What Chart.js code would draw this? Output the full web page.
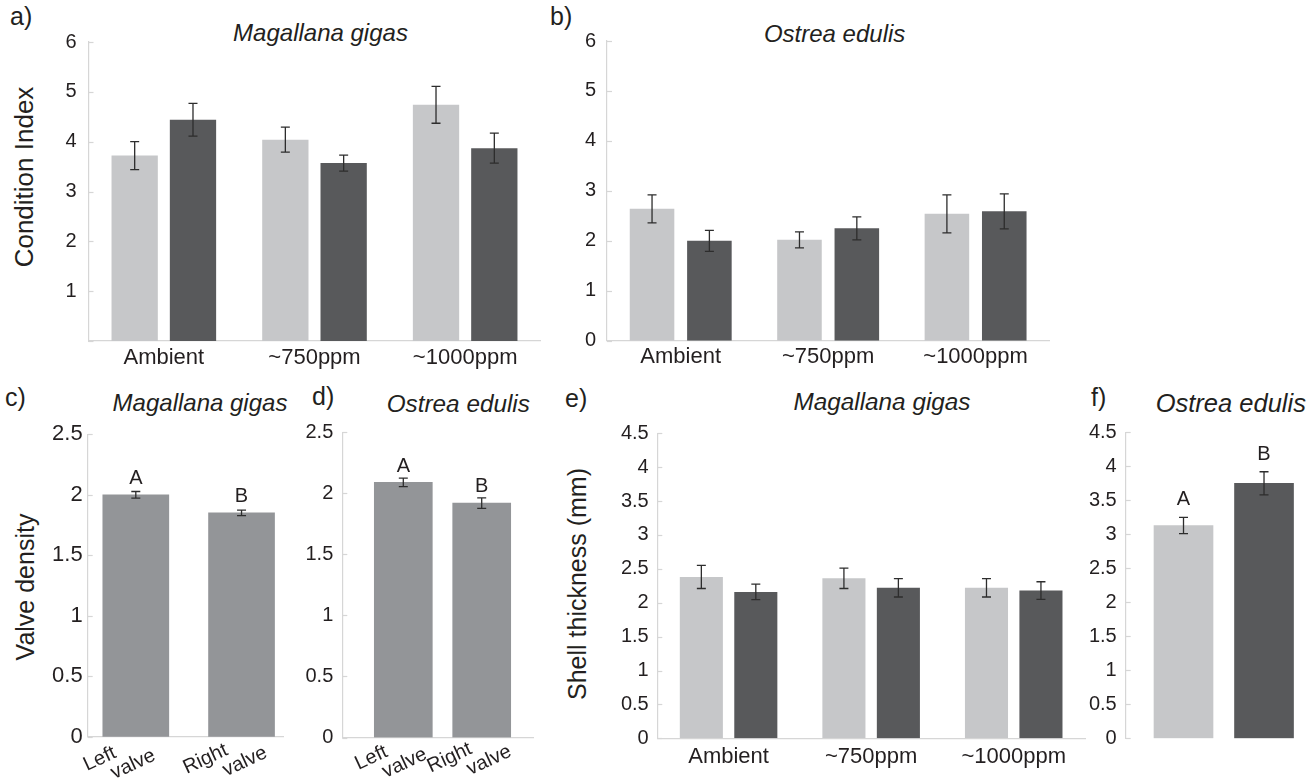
<!DOCTYPE html>
<html><head><meta charset="utf-8">
<script src="https://cdn.jsdelivr.net/npm/chart.js@4.4.1/dist/chart.umd.min.js"></script>
<style>
html,body{margin:0;padding:0;background:#fff;}
body{width:1309px;height:782px;position:relative;overflow:hidden;font-family:Helvetica,"Liberation Sans",Arial,sans-serif;color:#231f20;}
canvas{position:absolute;}
.t{position:absolute;line-height:1;white-space:nowrap;}
.title{font-style:italic;transform:translateX(-50%);}
.ytitle{transform:translate(-50%,-50%) rotate(-90deg);}
</style></head><body>

<div class="t" style="left:10px;top:4px;font-size:25px;">a)</div>
<div class="t" style="left:550px;top:4px;font-size:25px;">b)</div>
<div class="t" style="left:5px;top:385px;font-size:25px;">c)</div>
<div class="t" style="left:312px;top:384px;font-size:25px;">d)</div>
<div class="t" style="left:565px;top:386px;font-size:25px;">e)</div>
<div class="t" style="left:1091px;top:385px;font-size:25px;">f)</div>

<div class="t title" style="left:320.5px;top:20.7px;font-size:24px;">Magallana gigas</div>
<div class="t title" style="left:834.6px;top:21.5px;font-size:24px;">Ostrea edulis</div>
<div class="t title" style="left:200px;top:391px;font-size:24px;">Magallana gigas</div>
<div class="t title" style="left:458.3px;top:392px;font-size:24.3px;">Ostrea edulis</div>
<div class="t title" style="left:882px;top:390.4px;font-size:24.3px;">Magallana gigas</div>
<div class="t title" style="left:1230.8px;top:391.4px;font-size:25.5px;">Ostrea edulis</div>

<div class="t ytitle" style="left:23.5px;top:177px;font-size:26px;">Condition Index</div>
<div class="t ytitle" style="left:25px;top:587px;font-size:25px;">Valve density</div>
<div class="t ytitle" style="left:576.5px;top:584px;font-size:25px;">Shell thickness (mm)</div>

<canvas id="ca" width="545" height="380" style="left:0px;top:0px;width:545px;height:380px;"></canvas>
<canvas id="cb" width="520" height="380" style="left:545px;top:0px;width:520px;height:380px;"></canvas>
<canvas id="cc" width="290" height="402" style="left:0px;top:380px;width:290px;height:402px;"></canvas>
<canvas id="cd" width="250" height="402" style="left:290px;top:380px;width:250px;height:402px;"></canvas>
<canvas id="ce" width="545" height="402" style="left:545px;top:380px;width:545px;height:402px;"></canvas>
<canvas id="cf" width="234" height="402" style="left:1075px;top:380px;width:234px;height:402px;"></canvas>

<script>
// ---------------- DATA ----------------
const co2Levels = ['Ambient', '~750ppm', '~1000ppm'];
const groupNames = ['Group 1', 'Group 2'];

// a) Condition index, Magallana gigas
const ciGigasLight = [3.72, 4.04, 4.74];
const ciGigasLightSE = [0.28, 0.25, 0.37];
const ciGigasDark = [4.44, 3.57, 3.87];
const ciGigasDarkSE = [0.33, 0.16, 0.30];

// b) Condition index, Ostrea edulis
const ciEdulisLight = [2.64, 2.02, 2.54];
const ciEdulisLightSE = [0.28, 0.16, 0.38];
const ciEdulisDark = [2.00, 2.25, 2.59];
const ciEdulisDarkSE = [0.21, 0.23, 0.35];

// c), d) Valve density
const valveLabels = [['Left', 'valve'], ['Right', 'valve']];
const densGigas = [2.00, 1.85];
const densGigasSE = [0.027, 0.023];
const densEdulis = [2.09, 1.92];
const densEdulisSE = [0.035, 0.043];
const valveLetters = ['A', 'B'];

// e) Shell thickness, Magallana gigas
const thickGigasLight = [2.38, 2.36, 2.22];
const thickGigasLightSE = [0.17, 0.15, 0.135];
const thickGigasDark = [2.16, 2.22, 2.18];
const thickGigasDarkSE = [0.115, 0.135, 0.13];

// f) Shell thickness, Ostrea edulis
const thickEdulis = [3.13, 3.75];
const thickEdulisSE = [0.12, 0.17];
const thickEdulisLetters = ['A', 'B'];

// tick values / labels
const ciTickValues = [0, 1, 2, 3, 4, 5, 6];
const ciTickLabelsA = ['', '1', '2', '3', '4', '5', '6'];
const ciTickLabelsB = ['0', '1', '2', '3', '4', '5', '6'];
const densTickValues = [0, 0.5, 1, 1.5, 2, 2.5];
const densTickLabels = ['0', '0.5', '1', '1.5', '2', '2.5'];
const thickTickValues = [0, 0.5, 1, 1.5, 2, 2.5, 3, 3.5, 4, 4.5];
const thickTickLabels = ['0', '0.5', '1', '1.5', '2', '2.5', '3', '3.5', '4', '4.5'];

// ---------------- STYLE ----------------
const FAMILY = 'Helvetica, "Liberation Sans", Arial, sans-serif';
const TEXT = '#231f20';
const AXIS = '#d6d6d6';
const LIGHT = '#c6c7c9';
const DARK = '#58595b';
const MID = '#939598';
Chart.defaults.font.family = FAMILY;
Chart.defaults.color = TEXT;

function rawVal(d) { return typeof d === 'number' ? d : d.y; }

function makePlugins(opt) {
  return [{
    id: 'innerTicks',
    beforeDatasetsDraw(chart) {
      const ys = chart.scales.y, ctx = chart.ctx, x0 = chart.chartArea.left;
      ctx.save();
      ctx.strokeStyle = AXIS; ctx.lineWidth = 1.2;
      ys.ticks.forEach(t => {
        const y = Math.round(ys.getPixelForValue(t.value)) + 0.5;
        ctx.beginPath(); ctx.moveTo(x0, y); ctx.lineTo(x0 + 5, y); ctx.stroke();
      });
      ctx.restore();
    }
  }, {
    id: 'errBarsAndLetters',
    afterDatasetsDraw(chart) {
      const ctx = chart.ctx, ys = chart.scales.y;
      ctx.save();
      chart.data.datasets.forEach((ds, di) => {
        const meta = chart.getDatasetMeta(di);
        meta.data.forEach((el, j) => {
          const v = rawVal(ds.data[j]);
          const e = ds.errors[j];
          const x = el.x;
          const yHi = ys.getPixelForValue(v + e), yLo = ys.getPixelForValue(v - e);
          ctx.strokeStyle = '#2d2d2d'; ctx.lineWidth = 1.3;
          ctx.beginPath();
          ctx.moveTo(x, yHi); ctx.lineTo(x, yLo);
          ctx.moveTo(x - 4.5, yHi); ctx.lineTo(x + 4.5, yHi);
          ctx.moveTo(x - 4.5, yLo); ctx.lineTo(x + 4.5, yLo);
          ctx.stroke();
          if (ds.letters) {
            ctx.fillStyle = TEXT;
            ctx.font = opt.letterSize + 'px ' + FAMILY;
            ctx.textAlign = 'center'; ctx.textBaseline = 'alphabetic';
            ctx.fillText(ds.letters[j], x, yHi - opt.letterGap);
          }
        });
      });
      ctx.restore();
    }
  }, {
    id: 'rotLabels',
    afterDraw(chart) {
      if (!opt.rotLabels) return;
      const ctx = chart.ctx, meta = chart.getDatasetMeta(0), base = chart.chartArea.bottom;
      const r = opt.rotLabels;
      ctx.save();
      ctx.font = r.size + 'px ' + FAMILY;
      ctx.fillStyle = TEXT; ctx.textAlign = 'left'; ctx.textBaseline = 'alphabetic';
      r.labels.forEach((lines, j) => {
        const el = meta.data[j];
        const w1 = ctx.measureText(lines[0]).width;
        const w2 = ctx.measureText(lines[1]).width;
        const s2 = w1 - r.overlap;
        const total = s2 + w2;
        ctx.save();
        ctx.translate(el.x + r.dx, base + r.dy);
        ctx.rotate(-r.angle * Math.PI / 180);
        ctx.fillText(lines[0], -total / 2, 0);
        ctx.fillText(lines[1], -total / 2 + s2, r.lineGap);
        ctx.restore();
      });
      ctx.restore();
    }
  }];
}

function yScaleCfg(o) {
  return {
    type: 'linear',
    min: o.values[0], max: o.values[o.values.length - 1],
    afterBuildTicks: s => { s.ticks = o.values.map(v => ({ value: v })); },
    afterFit: s => { s.width = o.width; },
    grid: { display: false, drawTicks: false },
    border: { display: true, color: AXIS, width: 1.2 },
    ticks: { padding: o.pad, font: { size: o.size }, color: TEXT, autoSkip: false,
             callback: (v, i) => o.labels[i] }
  };
}

function catXCfg(o) {
  return {
    type: 'category', offset: true,
    afterFit: s => { s.height = o.height; },
    grid: { display: false, drawTicks: false },
    border: { display: true, color: AXIS, width: 1.2 },
    ticks: { padding: o.pad, font: { size: 22 }, color: TEXT, maxRotation: 0, minRotation: 0, autoSkip: false }
  };
}

function linXCfg(o) {
  return {
    type: 'linear', offset: false, min: o.min, max: o.max,
    afterFit: s => { s.height = o.height; },
    grid: { display: false, drawTicks: false },
    border: { display: o.border, color: AXIS, width: 1.2 },
    ticks: { display: false }
  };
}

function baseOptions(pad, scales) {
  return {
    responsive: false, animation: false, devicePixelRatio: 1,
    layout: { padding: pad },
    plugins: { legend: { display: false }, tooltip: { enabled: false }, title: { display: false } },
    scales: scales
  };
}

function groupedChart(id, lightVals, lightSE, darkVals, darkSE, pad, ycfg, xcfg, cp, bp) {
  new Chart(document.getElementById(id), {
    type: 'bar',
    data: {
      labels: co2Levels,
      datasets: [
        { label: groupNames[0], data: lightVals, errors: lightSE, backgroundColor: LIGHT,
          categoryPercentage: cp, barPercentage: bp },
        { label: groupNames[1], data: darkVals, errors: darkSE, backgroundColor: DARK,
          categoryPercentage: cp, barPercentage: bp }
      ]
    },
    options: baseOptions(pad, { x: catXCfg(xcfg), y: yScaleCfg(ycfg) }),
    plugins: makePlugins({ letterSize: 20, letterGap: 8 })
  });
}

function pairChart(id, vals, se, letters, colors, pad, ycfg, xcfg, thickness, plugOpt) {
  new Chart(document.getElementById(id), {
    type: 'bar',
    data: {
      datasets: [{
        label: 'mean', data: vals.map((v, i) => ({ x: i, y: v })), errors: se, letters: letters,
        backgroundColor: colors, barThickness: thickness
      }]
    },
    options: baseOptions(pad, { x: linXCfg(xcfg), y: yScaleCfg(ycfg) }),
    plugins: makePlugins(plugOpt)
  });
}

// a)
groupedChart('ca', ciGigasLight, ciGigasLightSE, ciGigasDark, ciGigasDarkSE,
  { left: 0, right: 4.5, top: 42, bottom: 0 },
  { values: ciTickValues, labels: ciTickLabelsA, width: 88.5, pad: 12, size: 20 },
  { height: 39, pad: 4 }, 0.774, 0.794);

// b)
groupedChart('cb', ciEdulisLight, ciEdulisLightSE, ciEdulisDark, ciEdulisDarkSE,
  { left: 0, right: 15.7, top: 41, bottom: 0 },
  { values: ciTickValues, labels: ciTickLabelsB, width: 62, pad: 11, size: 20 },
  { height: 39.3, pad: 3 }, 0.778, 0.777);

// c)
pairChart('cc', densGigas, densGigasSE, valveLetters, MID,
  { left: 0, right: 6.7, top: 54.3, bottom: 0 },
  { values: densTickValues, labels: densTickLabels, width: 87.7, pad: 5, size: 22 },
  { min: -0.455, max: 1.395, height: 45.3, border: true }, 66,
  { letterSize: 20, letterGap: 8,
    rotLabels: { labels: valveLabels, size: 20, angle: 25, overlap: 12, lineGap: 19, dx: -18, dy: 20 } });

// d)
pairChart('cd', densEdulis, densEdulisSE, valveLetters, MID,
  { left: 0, right: 6.7, top: 52.3, bottom: 0 },
  { values: densTickValues, labels: densTickLabels, width: 52.3, pad: 9, size: 20 },
  { min: -0.778, max: 1.658, height: 44.5, border: true }, 58,
  { letterSize: 20, letterGap: 6,
    rotLabels: { labels: valveLabels, size: 20, angle: 25, overlap: 12, lineGap: 19, dx: -14, dy: 18 } });

// e)
groupedChart('ce', thickGigasLight, thickGigasLightSE, thickGigasDark, thickGigasDarkSE,
  { left: 0, right: 5, top: 53.3, bottom: 0 },
  { values: thickTickValues, labels: thickTickLabels, width: 112.3, pad: 8.6, size: 20 },
  { height: 43.7, pad: 5 }, 0.764, 0.791);

// f)
pairChart('cf', thickEdulis, thickEdulisSE, thickEdulisLetters, [LIGHT, DARK],
  { left: 0, right: 4, top: 52.3, bottom: 0 },
  { values: thickTickValues, labels: thickTickLabels, width: 50.7, pad: 9, size: 20 },
  { min: -0.718, max: 1.509, height: 43.7, border: false }, 59,
  { letterSize: 20, letterGap: 12 });
</script>
</body></html>
